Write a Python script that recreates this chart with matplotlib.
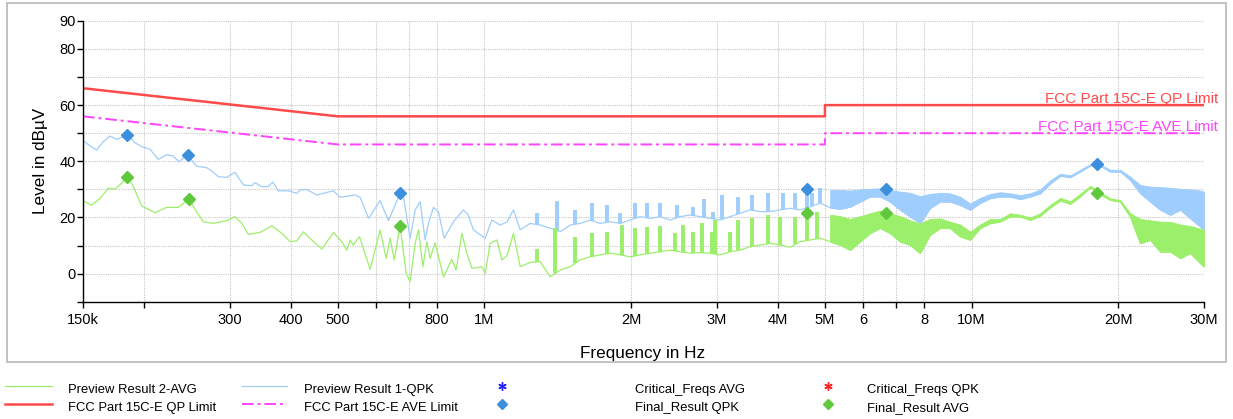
import numpy as np
import matplotlib
matplotlib.use("Agg")
import matplotlib.pyplot as plt
from matplotlib.lines import Line2D
from matplotlib.patches import Rectangle
from matplotlib.transforms import blended_transform_factory

plt.rcParams['font.family'] = ['Liberation Sans', 'DejaVu Sans']

# ---------------- data ----------------
# Preview Result 1-QPK (frequency in MHz, level in dBuV)
qpk_freq_mhz = [
    0.1500, 0.1543, 0.1600, 0.1651, 0.1704, 0.1759, 0.1804, 0.1853, 0.1918, 0.1980,
    0.2058, 0.2141, 0.2228, 0.2298, 0.2361, 0.2456, 0.2567, 0.2692, 0.2760, 0.2844,
    0.2959, 0.3077, 0.3201, 0.3330, 0.3383, 0.3492, 0.3602, 0.3678, 0.3777, 0.3960,
    0.4121, 0.4185, 0.4320, 0.4529, 0.4899, 0.5057, 0.5428, 0.5558, 0.5781, 0.6110,
    0.6354, 0.6715, 0.6821, 0.7041, 0.7209, 0.7381, 0.7558, 0.7676, 0.7860, 0.8048,
    0.8268, 0.8639, 0.9058, 0.9261, 0.9496, 1.0037, 1.0360, 1.0775, 1.1137, 1.1474,
    1.1843, 1.2416, 1.3017, 1.3646, 1.4306, 1.5000, 1.5726, 1.6488, 1.7285, 1.8122,
    1.8999, 1.9917, 2.0882, 2.1893, 2.2952, 2.4063, 2.5227, 2.6448, 2.7728, 2.9070,
    3.0477, 3.1952, 3.3498, 3.5120, 3.6818, 3.8601, 4.0469, 4.2428, 4.4480, 4.6632,
    4.8890, 5.1255, 5.3736, 5.6338, 5.9064, 6.1923, 6.4919, 6.8061, 7.1355, 7.4808,
    7.8430, 8.2226, 8.6204, 9.0378, 9.4751, 9.9338, 10.414, 10.918, 11.447, 12.001,
    12.582, 13.191, 13.829, 14.498, 15.215, 15.951, 16.723, 17.532, 18.381, 19.270,
    20.202, 21.180, 22.205, 23.280, 24.407, 25.587, 26.826, 28.124, 29.484, 30.000]
qpk_level = [
    47.3, 45.8, 44.0, 47.0, 49.0, 47.8, 48.5, 49.3, 46.6, 45.2,
    44.3, 40.7, 42.3, 41.9, 39.8, 42.3, 38.3, 37.7, 36.5, 34.5,
    34.3, 36.1, 31.6, 31.3, 32.4, 31.0, 31.0, 32.6, 29.5, 29.5,
    28.6, 29.8, 30.0, 28.0, 29.5, 27.2, 28.0, 27.2, 19.7, 26.0,
    18.9, 28.6, 27.4, 12.6, 22.7, 25.6, 12.0, 17.9, 23.6, 22.1,
    12.6, 18.5, 22.7, 21.0, 15.6, 12.6, 19.1, 17.3, 18.5, 22.7,
    15.6, 17.9, 17.3, 16.2, 14.9, 17.3, 17.9, 19.1, 17.9, 18.5,
    17.9, 19.1, 20.3, 19.7, 20.3, 19.1, 20.3, 20.9, 20.3, 19.7,
    19.1, 20.3, 21.5, 22.7, 22.1, 22.1, 22.7, 23.3, 22.7, 23.8,
    25.1, 23.5, 23.0, 23.8, 25.6, 27.4, 27.4, 25.6, 22.7, 20.3,
    17.9, 23.3, 25.6, 25.6, 24.4, 22.7, 25.1, 26.8, 27.4, 27.4,
    26.5, 27.4, 28.5, 32.0, 34.8, 34.3, 36.3, 38.5, 38.3, 36.3,
    36.3, 33.3, 28.6, 25.6, 22.7, 20.9, 22.7, 19.7, 16.7, 15.6]
# upper envelope of the dense QPK band above 5 MHz (same frequencies as the last 39 trace points)
qpk_band_top = [
    29.8, 29.8, 29.6, 30.0, 30.2, 30.4, 29.8, 29.2, 28.8, 27.6,
    28.4, 28.8, 28.6, 27.4, 25.0, 27.0, 28.4, 29.0, 28.6, 28.0,
    28.6, 30.0, 33.2, 35.6, 35.0, 37.0, 39.0, 38.8, 37.0, 37.0,
    34.5, 31.6, 31.0, 30.8, 30.6, 30.2, 30.0, 29.6, 29.2]
# harmonic spikes of QPK trace (MHz, top level)
qpk_spike_mhz = [1.2815, 1.4085, 1.5359, 1.6622, 1.7841, 1.8999, 2.0393, 2.1555, 2.2952,
                 2.4837, 2.6865, 2.8176, 2.9500, 3.0723, 3.3229, 3.5403, 3.8291, 4.1103,
                 4.3455, 4.6000, 4.7040, 4.8890]
qpk_spike_top = [21.7, 26.0, 22.7, 25.1, 24.4, 21.5, 25.1, 25.1, 25.3,
                 24.4, 23.8, 26.5, 22.1, 28.0, 27.4, 28.0, 28.8, 28.8,
                 28.8, 29.8, 28.6, 30.4]

# Preview Result 2-AVG
avg_freq_mhz = [
    0.1500, 0.1563, 0.1626, 0.1691, 0.1745, 0.1801, 0.1853, 0.1903, 0.1980, 0.2108,
    0.2228, 0.2353, 0.2479, 0.2547, 0.2649, 0.2777, 0.2959, 0.3077, 0.3177, 0.3277,
    0.3464, 0.3661, 0.3838, 0.3992, 0.4121, 0.4251, 0.4388, 0.4637, 0.4899, 0.5097,
    0.5219, 0.5301, 0.5377, 0.5540, 0.5827, 0.6110, 0.6285, 0.6405, 0.6528, 0.6715,
    0.6909, 0.7041, 0.7209, 0.7322, 0.7476, 0.7619, 0.7738, 0.7923, 0.8241, 0.8574,
    0.8750, 0.8990, 0.9205, 0.9424, 0.9882, 1.0037, 1.0277, 1.0608, 1.0861, 1.1137,
    1.1474, 1.1843, 1.2416, 1.3017, 1.3646, 1.4306, 1.5000, 1.5726, 1.6488, 1.7285,
    1.8122, 1.8999, 1.9917, 2.0882, 2.1893, 2.2952, 2.4063, 2.5227, 2.6448, 2.7728,
    2.9070, 3.0477, 3.1952, 3.3498, 3.5120, 3.6818, 3.8601, 4.0469, 4.2428, 4.4480,
    4.6632, 4.8890,
    5.1255, 5.3736, 5.6338, 5.9064, 6.1923, 6.4919, 6.8061, 7.1355, 7.4808,
    7.8430, 8.2226, 8.6204, 9.0378, 9.4751, 9.9338, 10.414, 10.918, 11.447, 12.001,
    12.582, 13.191, 13.829, 14.498, 15.215, 15.951, 16.723, 17.532, 18.381, 19.270,
    20.202, 21.180, 22.205, 23.280, 24.407, 25.587, 26.826, 28.124, 29.484, 30.000]
avg_level = [
    25.9, 24.4, 26.8, 30.4, 30.1, 32.2, 34.5, 31.0, 24.1, 21.7,
    23.6, 23.6, 26.7, 22.9, 18.5, 17.9, 18.9, 20.3, 17.9, 14.0,
    14.7, 17.0, 14.4, 11.4, 11.7, 14.9, 12.5, 8.8, 14.6, 11.4,
    8.4, 12.0, 10.2, 13.2, 1.6, 15.6, 5.5, 12.6, 4.9, 17.0,
    0.1, -2.8, 10.8, 15.6, 2.5, 11.4, 5.5, 11.0, -1.1, 5.1,
    1.3, 14.4, 7.3, 1.9, 2.5, 0.1, 10.8, 12.0, 4.9, 6.5,
    14.4, 2.5, 4.0, 4.3, -1.1, 1.3, 2.5, 4.9, 6.0, 6.7,
    7.3, 6.7, 6.0, 6.7, 7.3, 7.8, 8.4, 7.8, 7.3, 7.5,
    7.3, 6.7, 7.8, 8.4, 9.6, 10.2, 10.8, 10.2, 9.4, 11.4,
    12.0, 12.6,
    11.4, 10.2, 8.4, 11.4, 14.4, 16.2, 14.4, 11.4, 10.2,
    7.3, 13.8, 16.2, 16.2, 13.2, 12.0, 16.2, 17.9, 18.5, 20.3,
    20.3, 19.1, 20.5, 23.5, 26.0, 24.8, 27.5, 30.7, 28.2, 26.2,
    25.6, 20.3, 10.8, 12.0, 7.8, 7.8, 5.5, 7.3, 3.7, 2.5]
avg_band_top = [
    21.0, 20.5, 19.5, 20.5, 21.5, 22.5, 21.5, 20.5, 19.0, 17.9,
    19.5, 19.7, 18.5, 17.5, 15.0, 17.5, 19.5, 19.5, 21.5, 21.0,
    20.0, 21.5, 24.5, 27.0, 25.8, 28.5, 31.3, 29.0, 26.8, 26.2,
    21.5, 19.5, 19.0, 18.5, 18.5, 17.5, 17.0, 16.0, 15.6]
avg_spike_mhz = [1.2815, 1.3975, 1.5359, 1.6622, 1.7841, 1.9152, 2.0393, 2.1555, 2.2952,
                 2.4645, 2.5627, 2.6865, 2.7960, 2.9311, 2.9773, 3.1952, 3.3229, 3.5403,
                 3.8291, 4.0469, 4.3455, 4.6000, 4.8165]
avg_spike_top = [8.7, 16.2, 13.2, 14.4, 14.9, 17.3, 16.2, 16.7, 17.0,
                 14.4, 17.3, 14.9, 17.9, 14.9, 19.1, 14.9, 19.1, 19.7,
                 20.9, 20.3, 20.3, 21.5, 22.1]

# Final results
qpk_final_mhz = [0.185, 0.246, 0.672, 4.60, 6.67, 18.1]
qpk_final_db = [49.2, 42.3, 28.6, 30.0, 30.0, 39.0]
avg_final_mhz = [0.185, 0.248, 0.672, 4.60, 6.67, 18.1]
avg_final_db = [34.5, 26.6, 17.0, 21.5, 21.5, 28.8]

# Limits
limit_mhz = [0.15, 0.5, 5.0, 5.0, 30.0]
qp_limit_db = [66, 56, 56, 60, 60]
ave_limit_db = [56, 46, 46, 50, 50]

x_ticks = [0.15, 0.2, 0.3, 0.4, 0.5, 0.6, 0.7, 0.8, 1, 2, 3, 4, 5, 6, 7, 8, 10, 20, 30]
x_tick_labels = ['150k', '', '300', '400', '500', '', '', '800', '1M', '2M', '3M', '4M',
                 '5M', '6', '', '8', '10M', '20M', '30M']
y_ticks = list(range(-10, 91, 10))
y_tick_labels = ['', '0', '', '20', '', '40', '', '60', '', '80', '90']

# ---------------- style ----------------
C_QPK = '#9fcdfc'
C_AVG = '#9cef6a'
C_QPK_D = '#3c8fdc'
C_AVG_D = '#5fc83c'
C_QP = '#ff4a4a'
C_AVE = '#ff44ff'

W, H = 1233, 419
fig = plt.figure(figsize=(W / 100, H / 100), dpi=100)
ax = fig.add_axes([83 / W, 1 - 301.8 / H, 1121 / W, 281 / H])
ax.set_xscale('log')
ax.set_xlim(0.15, 30)
ax.set_ylim(-10, 90)


def draw_trace(freq, level, band_top, spk_f, spk_top, color, z):
    freq = np.asarray(freq)
    level = np.asarray(level)
    ax.plot(freq, level, color=color, lw=0.9, zorder=z)
    bf = freq[-len(band_top):]
    bl = level[-len(band_top):]
    ax.fill_between(bf, bl, band_top, color=color, lw=0.6, zorder=z)
    base = np.interp(np.log10(spk_f), np.log10(freq), level)
    ax.vlines(spk_f, base, spk_top, colors=color, lw=2.8, zorder=z)


draw_trace(qpk_freq_mhz, qpk_level, qpk_band_top, qpk_spike_mhz, qpk_spike_top, C_QPK, 2)
draw_trace(avg_freq_mhz, avg_level, avg_band_top, avg_spike_mhz, avg_spike_top, C_AVG, 3)

ax.plot(limit_mhz, qp_limit_db, color=C_QP, lw=1.8, zorder=4)
ax.plot(limit_mhz, ave_limit_db, color=C_AVE, lw=1.4, ls=(0, (6, 2, 1.5, 2)), zorder=4)

ax.plot(qpk_final_mhz, qpk_final_db, ls='none', marker='D', ms=6.5, color=C_QPK_D, zorder=6)
ax.plot(avg_final_mhz, avg_final_db, ls='none', marker='D', ms=6.5, color=C_AVG_D, zorder=6)

tr = blended_transform_factory(ax.transAxes, ax.transData)
ax.text(1.0125, 60.9, 'FCC Part 15C-E QP Limit', color=C_QP, fontsize=11,
        ha='right', va='baseline', transform=tr, clip_on=False)
ax.text(1.0125, 50.9, 'FCC Part 15C-E AVE Limit', color=C_AVE, fontsize=11,
        ha='right', va='baseline', transform=tr, clip_on=False)

ax.set_xticks(x_ticks)
ax.set_xticklabels(x_tick_labels)
ax.xaxis.set_minor_locator(matplotlib.ticker.NullLocator())
ax.set_yticks(y_ticks)
ax.set_yticklabels(y_tick_labels)
ax.tick_params(axis='both', direction='out', length=4, width=1, labelsize=10.5, color='black')
ax.tick_params(axis='x', pad=4)
ax.tick_params(axis='y', pad=1)
ax.grid(True, which='major', color='#c8c8c8', ls=(0, (1, 1)), lw=0.8)
ax.set_axisbelow(True)
for s in ['top', 'right']:
    ax.spines[s].set_visible(False)
for s in ['left', 'bottom']:
    ax.spines[s].set_linewidth(1.0)
    ax.spines[s].set_zorder(7)


def fx(px):
    return px / W


def fy(py):
    return 1 - py / H


fig.text(fx(642.5), fy(358.3), 'Frequency in Hz', fontsize=12.3, ha='center', va='baseline')
fig.text(fx(40.5), fy(161.3), 'Level in dBµV', fontsize=12.3, rotation=90, ha='center', va='center')

fig.add_artist(Rectangle((fx(7), fy(361.5)), (1226 - 7) / W, (361.5 - 3) / H,
                         transform=fig.transFigure, fill=False, ec='#bdbdbd', lw=1.3))

# legend
r1, r2 = 386.0, 403.5
t1, t2 = 393.3, 410.7
fs = 9.4
fig.add_artist(Line2D([fx(5), fx(52)], [fy(r1), fy(r1)], color=C_AVG, lw=0.9, transform=fig.transFigure))
fig.text(fx(68), fy(t1), 'Preview Result 2-AVG', fontsize=fs, va='baseline')
fig.add_artist(Line2D([fx(242), fx(287)], [fy(r1), fy(r1)], color=C_QPK, lw=0.9, transform=fig.transFigure))
fig.text(fx(304), fy(t1), 'Preview Result 1-QPK', fontsize=fs, va='baseline')
fig.add_artist(Line2D([fx(502)], [fy(r1)], ls='none', marker=(6, 2, 0), ms=6, mew=1.0,
                      color='#2020ff', transform=fig.transFigure))
fig.text(fx(635), fy(t1), 'Critical_Freqs AVG', fontsize=fs, va='baseline')
fig.add_artist(Line2D([fx(828)], [fy(r1)], ls='none', marker=(6, 2, 0), ms=6, mew=1.0,
                      color='#ff2020', transform=fig.transFigure))
fig.text(fx(867), fy(t1), 'Critical_Freqs QPK', fontsize=fs, va='baseline')

fig.add_artist(Line2D([fx(5), fx(52)], [fy(r2), fy(r2)], color=C_QP, lw=1.8, transform=fig.transFigure))
fig.text(fx(68), fy(t2), 'FCC Part 15C-E QP Limit', fontsize=fs, va='baseline')
fig.add_artist(Line2D([fx(242), fx(287)], [fy(r2), fy(r2)], color=C_AVE, lw=1.4,
                      ls=(0, (6, 2, 1.5, 2)), transform=fig.transFigure))
fig.text(fx(304), fy(t2), 'FCC Part 15C-E AVE Limit', fontsize=fs, va='baseline')
fig.add_artist(Line2D([fx(502)], [fy(r2)], ls='none', marker='D', ms=5.5, color=C_QPK_D,
                      transform=fig.transFigure))
fig.text(fx(635), fy(t2), 'Final_Result QPK', fontsize=fs, va='baseline')
fig.add_artist(Line2D([fx(828)], [fy(r2)], ls='none', marker='D', ms=5.5, color=C_AVG_D,
                      transform=fig.transFigure))
fig.text(fx(867), fy(t2), 'Final_Result AVG', fontsize=fs, va='baseline')

fig.savefig('out.png', dpi=100)
